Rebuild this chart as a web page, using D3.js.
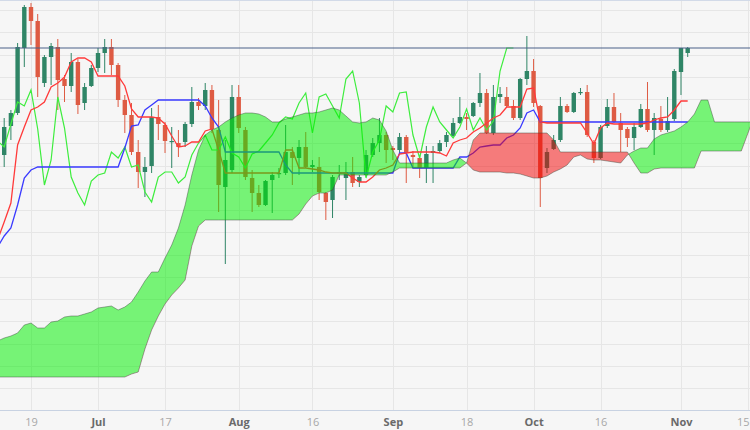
<!DOCTYPE html>
<html><head><meta charset="utf-8">
<script src="https://cdn.jsdelivr.net/npm/d3@7"></script>
<style>
html,body{margin:0;padding:0;background:#f6f6f6;}
svg{display:block;}
</style></head><body>
<svg id="chart" width="750" height="430"></svg>
<script>
// ---------- data (price in chart points) ----------
const firstLineDate = "2023-06-12";   // first Tenkan/Kijun/Span value
const firstCandleDate = "2023-06-13"; // first candle

const openP = [
 255,284,297,362,403,389,327,353,363,331,
 324,348,307,324,342,357,363,345,310,295,
 258,238,244,293,285,268,267,268,286,308,
 304,320,280,223,240,313,280,232,217,205,
 230,236,237,258,252,263,243,243,217,210,
 236,232,238,228,235,255,267,275,262,260,
 273,255,252,242,257,259,268,274,287,293,
 294,307,317,277,313,313,304,292,331,339,
 304,242,261,270,304,298,317,318,268,252,
 284,303,287,281,272,283,301,280,291,280,
 291,338,357];
const highP = [
 292,300,367,405,407,396,355,367,371,335,
 357,351,327,345,362,371,371,347,315,307,
 270,253,302,305,288,283,280,288,323,312,
 327,325,310,270,325,325,283,240,225,230,
 238,242,285,263,270,278,250,253,218,235,
 245,248,253,235,260,272,292,278,264,277,
 275,259,255,264,264,270,278,292,313,297,
 308,337,321,325,323,323,310,332,374,351,
 305,262,275,313,306,318,322,325,270,285,
 311,317,297,283,287,306,328,297,304,313,
 341,362,363];
const lowP = [
 243,270,295,343,365,313,323,325,300,308,
 318,296,300,323,338,337,335,303,277,255,
 222,213,237,270,257,242,253,263,283,300,
 300,277,198,146,237,277,230,198,203,204,
 197,232,235,225,235,242,238,210,190,192,
 230,210,223,223,233,253,258,247,250,257,
 227,243,232,227,227,257,263,272,286,280,
 293,303,276,275,307,303,290,290,325,303,
 203,237,260,268,297,297,315,273,247,251,
 282,287,258,263,260,282,278,255,278,278,
 289,315,353];
const closeP = [
 283,297,363,403,389,333,353,364,330,324,
 348,305,323,342,357,363,345,310,295,258,
 238,243,293,286,269,269,263,286,308,304,
 320,281,225,250,313,282,233,217,205,229,
 235,237,258,252,263,243,245,218,208,233,
 238,238,227,233,255,267,275,260,260,273,
 257,253,242,256,259,267,275,287,293,291,
 307,317,277,313,316,304,292,331,339,307,
 232,258,270,304,298,317,318,275,252,283,
 303,288,280,272,283,301,280,292,280,289,
 339,362,362];

const tenkan = [
 170,188,207,265,283,300,303,308,323,327,
 333,348,352,352,348,334,334,334,334,324,
 301,293,293,293,292,286,274,263,264,268,
 268,279,281,260,237,237,237,237,237,237,
 237,237,237,260,260,242,242,241,240,238,
 237,237,237,232,228,228,233,240,242,245,
 256,257,258,258,258,258,257,254,267,270,
 272,278,282,287,292,295,303,303,303,321,
 322,288,287,287,287,287,287,287,277,266,
 282,287,286,286,286,286,286,287,290,292,
 293,300,309,309];
const kijun = [
 163,174,182,205,232,240,243,243,243,243,
 243,243,243,243,243,243,243,243,243,262,
 284,285,300,305,310,310,310,310,310,310,
 310,304,292,283,258,258,258,258,258,258,
 258,258,258,245,237,237,237,237,237,237,
 237,237,237,237,237,237,237,237,237,237,
 257,257,242,242,242,242,242,242,242,253,
 253,257,263,264,265,265,272,275,282,297,
 300,288,288,288,288,288,288,288,288,288,
 288,288,288,288,288,288,288,288,288,288,
 288,288,288,288];
const spanA = [
 69,72,74,77,85,87,82,82,88,89,
 93,94,94,96,98,102,103,104,100,103,
 108,118,129,138,138,152,165,182,205,235,
 260,275,280,283,288,292,295,297,297,296,
 293,288,288,291,293,295,297,297,298,300,
 302,300,294,288,287,288,292,290,279,260,
 247,247,247,247,247,247,247,247,250,252,
 247,240,238,238,238,238,237,237,236,234,
 232,232,234,238,241,245,253,255,251,250,
 250,249,248,247,255,259,262,262,271,275,
 277,279,283,288,296,310,310,288,288,288,
 288,288,288,288];
const spanB = [
 33,33,33,33,33,33,33,33,33,33,
 33,33,33,33,33,33,33,33,33,33,
 36,38,61,80,94,106,115,122,130,164,
 184,190,190,190,190,190,190,190,190,190,
 190,190,190,190,190,196,206,214,217,217,
 220,235,235,235,235,235,235,235,235,238,
 242,242,242,242,242,242,242,242,242,242,
 247,270,277,277,277,277,277,277,277,277,
 277,277,277,270,258,258,258,258,258,258,
 258,258,258,258,258,247,237,237,241,242,
 242,242,242,242,242,259,259,259,259,259,
 259,259,277,295];

const chikouShift = 26;
const tickDates = ["2023-06-19","2023-07-03","2023-07-17","2023-08-01","2023-08-16",
  "2023-09-01","2023-09-18","2023-10-02","2023-10-16","2023-11-01","2023-11-15"];
const tickLabels = ["19","Jul","17","Aug","16","Sep","18","Oct","16","Nov","15"];
const tickIsMonth = [false,true,false,true,false,true,false,true,false,true,false];
const gridValues = [400,377.8,355.5,333.3,311.0,288.8,266.6,244.3,222.1,199.8,
  177.6,155.4,133.1,110.9,88.6,66.4,44.2,21.9];

// ---------- layout ----------
const W = 750, H = 430, plotH = 411;
const svg = d3.select("#chart");
const parse = d3.utcParse("%Y-%m-%d"), fmt = d3.utcFormat("%Y-%m-%d");
const days = d3.utcDay.range(parse("2023-06-01"), parse("2023-12-31"))
  .filter(d => d.getUTCDay() > 0 && d.getUTCDay() < 6);
const dayIndex = new Map(days.map((d, i) => [fmt(d), i]));
const lineStart = dayIndex.get(firstLineDate);
const candleStart = dayIndex.get(firstCandleDate);

const x = d3.scaleLinear()
  .domain([dayIndex.get("2023-06-19"), dayIndex.get("2023-11-15")])
  .range([31, 748]);
const y = d3.scaleLinear().domain([0, 410]).range([410, 0]);

svg.append("rect").attr("width", W).attr("height", H).attr("fill", "#f6f6f6");

const defs = svg.append("defs");
defs.append("clipPath").attr("id", "plot")
  .append("rect").attr("x", 0).attr("y", 0).attr("width", W).attr("height", plotH);

// grid
const grid = svg.append("g");
grid.selectAll(".hg").data(gridValues).join("line")
  .attr("x1", 0).attr("x2", W)
  .attr("y1", d => Math.round(y(d)) + 0.5).attr("y2", d => Math.round(y(d)) + 0.5)
  .attr("stroke", "#e6e6e6").attr("stroke-width", 1);
const tickIdx = tickDates.map(d => dayIndex.get(d));
grid.selectAll(".vg").data(tickIdx).join("line")
  .attr("x1", d => Math.round(x(d)) + 0.5).attr("x2", d => Math.round(x(d)) + 0.5)
  .attr("y1", 0).attr("y2", plotH)
  .attr("stroke", "#e6e6e6").attr("stroke-width", 1);
svg.append("line").attr("x1", 0).attr("x2", W).attr("y1", 0.5).attr("y2", 0.5)
  .attr("stroke", "#d2dae8");

const plot = svg.append("g").attr("clip-path", "url(#plot)");

// candles
const candles = openP.map((o, i) => ({
  k: candleStart + i, o, h: highP[i], l: lowP[i], c: closeP[i]
}));
const up = "#2f8566", down = "#de5b43";
const cg = plot.append("g");
cg.selectAll(".wick").data(candles).join("line")
  .attr("x1", d => x(d.k)).attr("x2", d => x(d.k))
  .attr("y1", d => y(d.h)).attr("y2", d => y(d.l))
  .attr("stroke", d => d.c >= d.o ? up : down).attr("stroke-width", 1);
cg.selectAll(".body").data(candles).join("rect")
  .attr("x", d => x(d.k) - 2.2).attr("width", 4.4)
  .attr("y", d => y(Math.max(d.o, d.c)))
  .attr("height", d => Math.max(1.2, Math.abs(y(d.o) - y(d.c))))
  .attr("fill", d => d.c >= d.o ? up : down);

// lines
const lineGen = d3.line().x(d => x(d[0])).y(d => y(d[1]));
const tenkanPts = tenkan.map((v, i) => [lineStart + i, v]);
const kijunPts = kijun.map((v, i) => [lineStart + i, v]);
const chikouPts = closeP.map((v, i) => [candleStart + i - chikouShift, v]);

plot.append("path").attr("d", lineGen(chikouPts)).attr("fill", "none")
  .attr("stroke", "#3ded3d").attr("stroke-width", 1.2);
plot.append("path").attr("d", lineGen(kijunPts)).attr("fill", "none")
  .attr("stroke", "#3a3aff").attr("stroke-width", 1.3);
plot.append("path").attr("d", lineGen(tenkanPts)).attr("fill", "none")
  .attr("stroke", "#ff3a3a").attr("stroke-width", 1.3);

// cloud
const cloud = spanA.map((a, i) => ({ k: lineStart + i, a, b: spanB[i] }));
defs.append("clipPath").attr("id", "aboveB").append("path")
  .attr("d", d3.area().x(d => x(d.k)).y0(0).y1(d => y(d.b))(cloud));
defs.append("clipPath").attr("id", "belowB").append("path")
  .attr("d", d3.area().x(d => x(d.k)).y0(plotH).y1(d => y(d.b))(cloud));
const cloudArea = d3.area().x(d => x(d.k)).y0(d => y(d.a)).y1(d => y(d.b));
const cgp = plot.append("g");
cgp.append("g").attr("clip-path", "url(#aboveB)").append("path")
  .attr("d", cloudArea(cloud)).attr("fill", "rgb(0,240,0)").attr("fill-opacity", 0.52);
cgp.append("g").attr("clip-path", "url(#belowB)").append("path")
  .attr("d", cloudArea(cloud)).attr("fill", "rgb(244,0,0)").attr("fill-opacity", 0.5);
cgp.append("path").attr("d", lineGen(cloud.map(d => [d.k, d.a]))).attr("fill", "none")
  .attr("stroke", "rgba(60,70,60,0.45)").attr("stroke-width", 1);
cgp.append("path").attr("d", lineGen(cloud.map(d => [d.k, d.b]))).attr("fill", "none")
  .attr("stroke", "rgba(60,70,60,0.45)").attr("stroke-width", 1);

// last price line
const lastClose = closeP[closeP.length - 1];
svg.append("line").attr("x1", 0).attr("x2", W)
  .attr("y1", y(lastClose)).attr("y2", y(lastClose))
  .attr("stroke", "#4a6088").attr("stroke-width", 1);

// x axis
svg.append("line").attr("x1", 0).attr("x2", W).attr("y1", plotH - 0.5).attr("y2", plotH - 0.5)
  .attr("stroke", "#c8d2e2");
const ax = svg.append("g").attr("transform", `translate(0,${plotH})`)
  .call(d3.axisBottom(x).tickValues(tickIdx).tickSize(0).tickPadding(7)
    .tickFormat((d, i) => tickLabels[i]));
ax.select(".domain").remove();
ax.selectAll("text")
  .attr("font-family", "'Open Sans', 'DejaVu Sans', sans-serif")
  .attr("font-size", 11)
  .attr("font-weight", (d, i) => tickIsMonth[i] ? "bold" : "normal")
  .attr("fill", (d, i) => tickIsMonth[i] ? "#6a6a6a" : "#a8a8a8");
// keep the last label inside the picture
const lastTick = ax.selectAll(".tick").filter((d, i) => i === tickIdx.length - 1);
lastTick.select("text").attr("text-anchor", "end").attr("x", W - 1 - x(tickIdx[tickIdx.length - 1]));
</script>
</body></html>
